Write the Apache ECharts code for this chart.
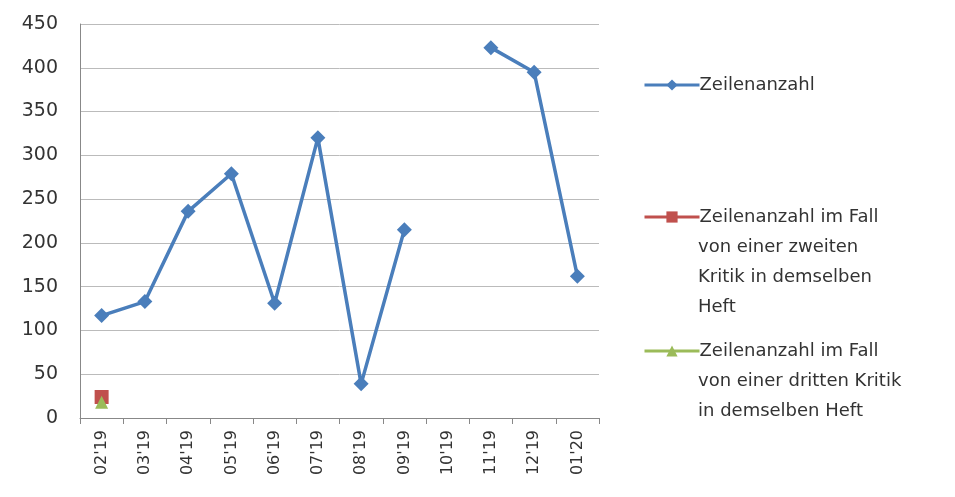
<!DOCTYPE html>
<html>
<head>
<meta charset="utf-8">
<script src="https://cdn.jsdelivr.net/npm/echarts@6/dist/echarts.min.js"></script>
<style>
  html, body { margin: 0; padding: 0; background: #fff; }
  #chart { width: 955px; height: 497px; }
</style>
</head>
<body>
<div id="chart"></div>
<script>
var months = ["02'19", "03'19", "04'19", "05'19", "06'19", "07'19", "08'19", "09'19", "10'19", "11'19", "12'19", "01'20"]
var zeilen = [117, 133, 236, 279, 131, 320, 39, 215, null, 423, 395, 162]
var zweite = [24, null, null, null, null, null, null, null, null, null, null, null]
var dritte = [18, null, null, null, null, null, null, null, null, null, null, null]
var names = [
  ['Zeilenanzahl'],
  ['Zeilenanzahl im Fall', 'von einer zweiten', 'Kritik in demselben', 'Heft'],
  ['Zeilenanzahl im Fall', 'von einer dritten Kritik', 'in demselben Heft']
]
var legendRows = [84, 216, 350]

var font = 'DejaVu Sans'
var textColor = '#333'
var lineGap = 30

function seriesName (i) { return names[i].join(' ') }

// legend: icon + erste Zeile, restliche Zeilen als graphic-Text
var legends = []
var extraText = []
names.forEach(function (lines, i) {
  legends.push({
    left: 638,
    top: legendRows[i] - 13,
    itemWidth: 55,
    itemHeight: 14,
    data: [seriesName(i)],
    lineStyle: { width: 3 },
    formatter: function () { return lines[0] },
    textStyle: { fontFamily: font, fontSize: 18, color: textColor, padding: [0, 0, 0, -5] }
  })
  lines.slice(1).forEach(function (t, j) {
    extraText.push({
      type: 'text',
      left: 698,
      top: legendRows[i] + (j + 1) * lineGap - 8,
      style: { text: t, font: '18px "' + font + '"', fill: textColor }
    })
  })
})

var chart = echarts.init(document.getElementById('chart'))
chart.setOption({
  animation: false,
  grid: { left: 80, right: 356, top: 24, bottom: 79 },
  legend: legends,
  graphic: extraText,
  xAxis: {
    type: 'category',
    data: months,
    boundaryGap: true,
    axisLine: { lineStyle: { color: '#888' } },
    axisTick: { show: true, length: 6, lineStyle: { color: '#888' } },
    axisLabel: { rotate: 90, fontFamily: font, fontSize: 16, color: textColor, margin: 12 }
  },
  yAxis: {
    type: 'value',
    min: 0,
    max: 450,
    interval: 50,
    axisLine: { show: true, lineStyle: { color: '#888' } },
    axisTick: { show: false },
    axisLabel: { fontFamily: font, fontSize: 19, color: textColor, margin: 22 },
    splitLine: { lineStyle: { color: '#bbb' } }
  },
  series: [
    {
      name: seriesName(0),
      type: 'line',
      data: zeilen,
      symbol: 'diamond',
      symbolSize: 15,
      lineStyle: { color: '#4A7EBB', width: 3.5 },
      itemStyle: { color: '#4A7EBB' }
    },
    {
      name: seriesName(1),
      type: 'line',
      data: zweite,
      symbol: 'rect',
      symbolSize: 14,
      lineStyle: { color: '#C0504D', width: 3 },
      itemStyle: { color: '#C0504D' }
    },
    {
      name: seriesName(2),
      type: 'line',
      data: dritte,
      symbol: 'triangle',
      symbolSize: 13,
      lineStyle: { color: '#9BBB59', width: 3 },
      itemStyle: { color: '#9BBB59' }
    }
  ]
})
</script>
</body>
</html>
